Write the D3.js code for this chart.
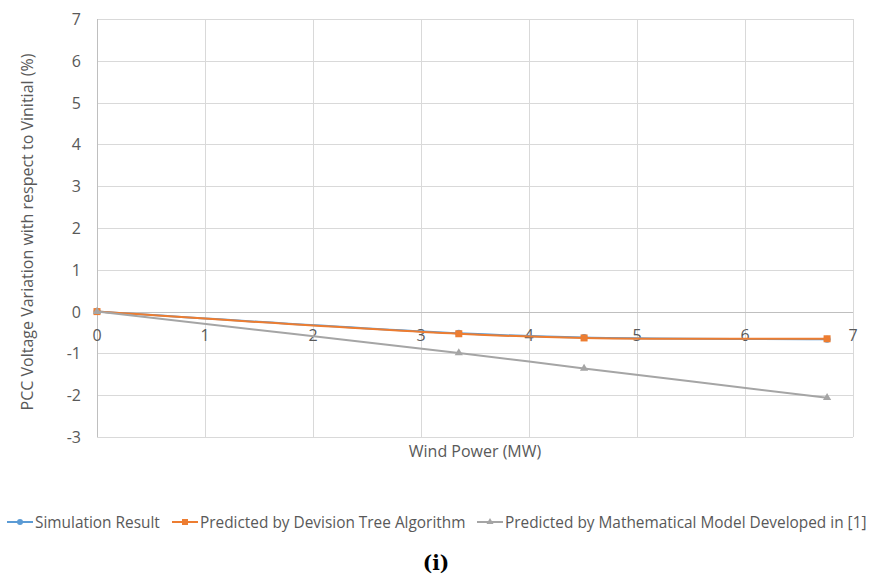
<!DOCTYPE html>
<html>
<head>
<meta charset="utf-8">
<script src="https://cdn.jsdelivr.net/npm/d3@7"></script>
<style>
  body { margin: 0; background: #fff; }
  text { font-family: "Open Sans", "Noto Sans", sans-serif; }
</style>
</head>
<body>
<svg width="873" height="577"></svg>
<script>
// wind power (MW) at each measured point
const windPower = [0, 3.35, 4.51, 6.76];
const simulation = [0, -0.52, -0.62, -0.66];
const decisionTree = [0, -0.53, -0.63, -0.65];
const mathModel = [0, -0.99, -1.36, -2.06];
const xTicks = [0, 1, 2, 3, 4, 5, 6, 7];
const yTicks = [-3, -2, -1, 0, 1, 2, 3, 4, 5, 6, 7];

const seriesNames = ["Simulation Result", "Predicted by Devision Tree Algorithm", "Predicted by Mathematical Model Developed in [1]"];

const svg = d3.select("svg");
const x = d3.scaleLinear().domain([0, 7]).range([97, 853]);
const y = d3.scaleLinear().domain([-3, 7]).range([437, 19]);

const series = [
    { name: seriesNames[0], values: simulation, color: "#5b9bd5", marker: "circle" },
    { name: seriesNames[1], values: decisionTree, color: "#ed7d31", marker: "square" },
    { name: seriesNames[2], values: mathModel, color: "#a5a5a5", marker: "triangle" }
];

// grid
const grid = svg.append("g").attr("stroke", "#d9d9d9").attr("stroke-width", 1);
grid.selectAll(".h").data(yTicks).enter().append("line")
    .attr("x1", x(0)).attr("x2", x(7))
    .attr("y1", d => Math.round(y(d)) + 0.5).attr("y2", d => Math.round(y(d)) + 0.5);
grid.selectAll(".v").data(xTicks).enter().append("line")
    .attr("y1", y(7)).attr("y2", y(-3))
    .attr("x1", d => Math.round(x(d)) + 0.5).attr("x2", d => Math.round(x(d)) + 0.5);

// axes lines
svg.append("line").attr("x1", x(0)).attr("x2", x(7))
    .attr("y1", Math.round(y(0)) + 0.5).attr("y2", Math.round(y(0)) + 0.5)
    .attr("stroke", "#bfbfbf");
svg.append("line").attr("y1", y(7)).attr("y2", y(-3))
    .attr("x1", Math.round(x(0)) + 0.5).attr("x2", Math.round(x(0)) + 0.5)
    .attr("stroke", "#bfbfbf");

// tick labels
svg.append("g").selectAll("text").data(yTicks).enter().append("text")
    .attr("x", 81).attr("y", d => y(d) + 6)
    .attr("text-anchor", "end").attr("font-size", 16).attr("fill", "#595959")
    .text(d => d);
svg.append("g").selectAll("text").data(xTicks).enter().append("text")
    .attr("x", d => x(d)).attr("y", y(0) + 29)
    .attr("text-anchor", "middle").attr("font-size", 16).attr("fill", "#595959")
    .text(d => d);

// axis titles
svg.append("text")
    .attr("transform", "translate(33," + 232 + ") rotate(-90)")
    .attr("text-anchor", "middle").attr("font-size", 16).attr("fill", "#595959")
    .text("PCC Voltage Variation with respect to Vinitial (%)");
svg.append("text")
    .attr("x", 475).attr("y", 457)
    .attr("text-anchor", "middle").attr("font-size", 16).attr("fill", "#595959")
    .text("Wind Power (MW)");

// lines
const line = d3.line()
    .x(d => x(d[0])).y(d => y(d[1]))
    .curve(d3.curveCatmullRom.alpha(0.5));

function drawMarker(g, type, color, size) {
    if (type === "circle") g.append("circle").attr("r", size / 2).attr("fill", color);
    else if (type === "square") g.append("rect").attr("x", -size / 2).attr("y", -size / 2)
        .attr("width", size).attr("height", size).attr("fill", color);
    else g.append("path").attr("d", d3.symbol(d3.symbolTriangle, size * size * 0.6)()).attr("fill", color);
}

series.forEach(s => {
    const pts = windPower.map((w, i) => [w, s.values[i]]);
    svg.append("path").datum(pts)
        .attr("d", line).attr("fill", "none")
        .attr("stroke", s.color).attr("stroke-width", 2);
    pts.forEach(p => {
        const g = svg.append("g").attr("transform", "translate(" + x(p[0]) + "," + y(p[1]) + ")");
        drawMarker(g, s.marker, s.color, 7);
    });
});

// legend
const legendX = [7, 172, 477];
series.forEach((s, i) => {
    const g = svg.append("g").attr("transform", "translate(" + legendX[i] + ",522)");
    g.append("line").attr("x1", 0).attr("x2", 26).attr("stroke", s.color).attr("stroke-width", 2);
    const m = g.append("g").attr("transform", "translate(13,0)");
    drawMarker(m, s.marker, s.color, 6);
    g.append("text").attr("x", 28).attr("y", 5.5).attr("font-size", 15.4).attr("fill", "#595959")
        .text(s.name);
});

svg.append("text")
    .attr("x", 436).attr("y", 570)
    .attr("text-anchor", "middle").attr("font-size", 20).attr("font-weight", "bold")
    .attr("fill", "#000").style("font-family", "'DejaVu Serif', 'Liberation Serif', serif")
    .text("(i)");
</script>
</body>
</html>
